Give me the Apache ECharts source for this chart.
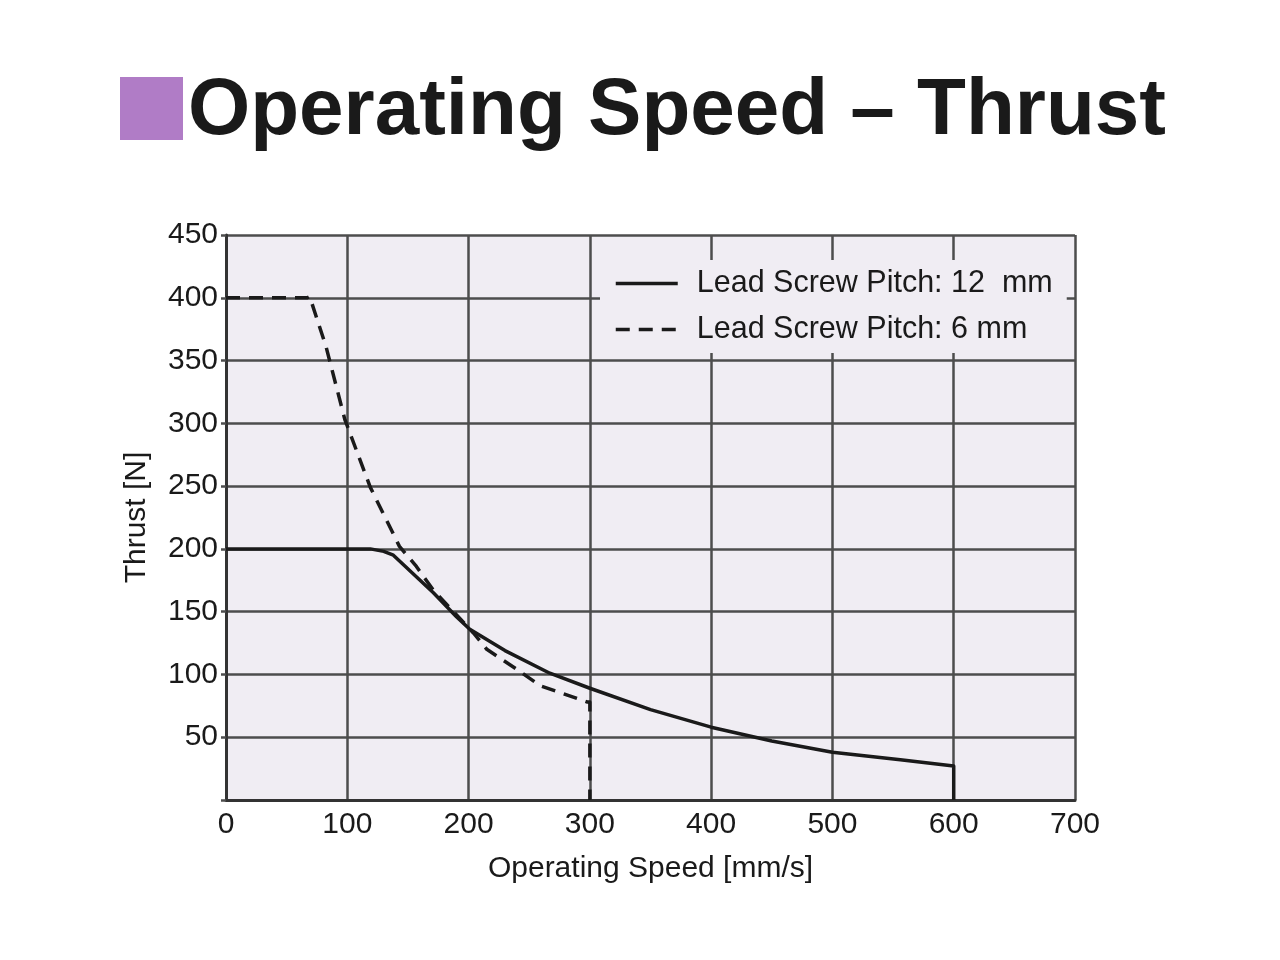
<!DOCTYPE html>
<html>
<head>
<meta charset="utf-8">
<script src="https://cdn.jsdelivr.net/npm/echarts@6/dist/echarts.min.js"></script>
<style>
html,body{margin:0;padding:0;background:#fff;}
#chart{width:1280px;height:960px;}
</style>
</head>
<body>
<div id="chart"></div>
<script>
const titleText = 'Operating Speed \u2013 Thrust';
const xAxisName = 'Operating Speed [mm/s]';
const yAxisName = 'Thrust [N]';
const seriesNames = ['Lead Screw Pitch: 12  mm', 'Lead Screw Pitch: 6 mm'];
// [speed mm/s, thrust N]
const pitch12 = [[0,200],[119,200],[130,198],[138,195],[171,165],[190,146],[201,136],[230,119],[267,101],[300,89],[350,72],[400,58],[450,47],[500,38],[556,32],[600,27],[600,0]];
const pitch6 = [[0,400],[67,400],[69,401],[82.5,361],[98,303],[119,249],[143,202],[157,186],[171,167],[204,133],[215,120],[240,104],[259,91],[298,78],[300,78],[300,0]];
const xTicks = {min:0, max:700, interval:100};
const yTicks = {min:0, max:450, interval:50};

const chart = echarts.init(document.getElementById('chart'));
const FONT = '"Liberation Sans", Arial, sans-serif';
const GRID = '#4d4d4d';
chart.setOption({
  backgroundColor: '#ffffff',
  animation: false,
  graphic: [
    {type:'rect', shape:{x:120, y:77, width:63, height:63}, style:{fill:'#b07cc6'}},
    {type:'text', x:188, y:112, style:{text:titleText, font:'bold 80px ' + FONT, fill:'#1a1a1a', verticalAlign:'middle'}},
    {type:'rect', z:-1, shape:{x:226, y:235, width:849, height:565}, style:{fill:'#f0edf3'}}
  ],
  grid: {left:226, right:205, top:235, bottom:160, show:false},
  legend: {
    left: 600, top: 260,
    orient: 'vertical',
    backgroundColor: '#f0edf3',
    padding: [8, 14, 8, 14],
    itemWidth: 62, itemHeight: 30, itemGap: 15,
    itemStyle: {color:'rgba(0,0,0,0)', borderColor:'rgba(0,0,0,0)', borderWidth:0, opacity:0},
    lineStyle: {width: 3.5, color:'#1a1a1a'},
    textStyle: {fontSize: 30.5, color:'#1a1a1a', fontFamily: FONT, padding:[0,0,0,14]},
    data: seriesNames,
    z: 5
  },
  xAxis: {
    type:'value', min:xTicks.min, max:xTicks.max, interval:xTicks.interval,
    name:xAxisName, nameLocation:'middle', nameGap:54,
    nameTextStyle:{fontSize:30, color:'#1a1a1a', fontFamily:FONT},
    axisLine:{show:true, onZero:false, lineStyle:{color:'#333', width:3}},
    axisTick:{show:false},
    axisLabel:{fontSize:30, color:'#1a1a1a', fontFamily:FONT, margin:10},
    splitLine:{show:true, lineStyle:{color:GRID, width:2.5}}
  },
  yAxis: {
    type:'value', min:yTicks.min, max:yTicks.max, interval:yTicks.interval,
    name:yAxisName, nameLocation:'middle', nameGap:74,
    nameTextStyle:{fontSize:30, color:'#1a1a1a', fontFamily:FONT},
    axisLine:{show:true, onZero:false, lineStyle:{color:'#333', width:3}},
    axisTick:{show:true, length:5, lineStyle:{color:GRID, width:2.5}},
    axisLabel:{fontSize:30, color:'#1a1a1a', fontFamily:FONT, margin:8,
      formatter: v => v === 0 ? '' : String(v)},
    splitLine:{show:true, lineStyle:{color:GRID, width:2.5}}
  },
  series: [
    {name:seriesNames[0], type:'line', data:pitch12, symbol:'none', smooth:false, z:3,
     lineStyle:{color:'#1a1a1a', width:3.5, type:'solid', join:'round'}, itemStyle:{color:'#1a1a1a'}},
    {name:seriesNames[1], type:'line', data:pitch6, symbol:'none', smooth:false, z:3,
     lineStyle:{color:'#1a1a1a', width:3.5, type:[14,9], join:'round'}, itemStyle:{color:'#1a1a1a'}}
  ]
});
</script>
</body>
</html>
